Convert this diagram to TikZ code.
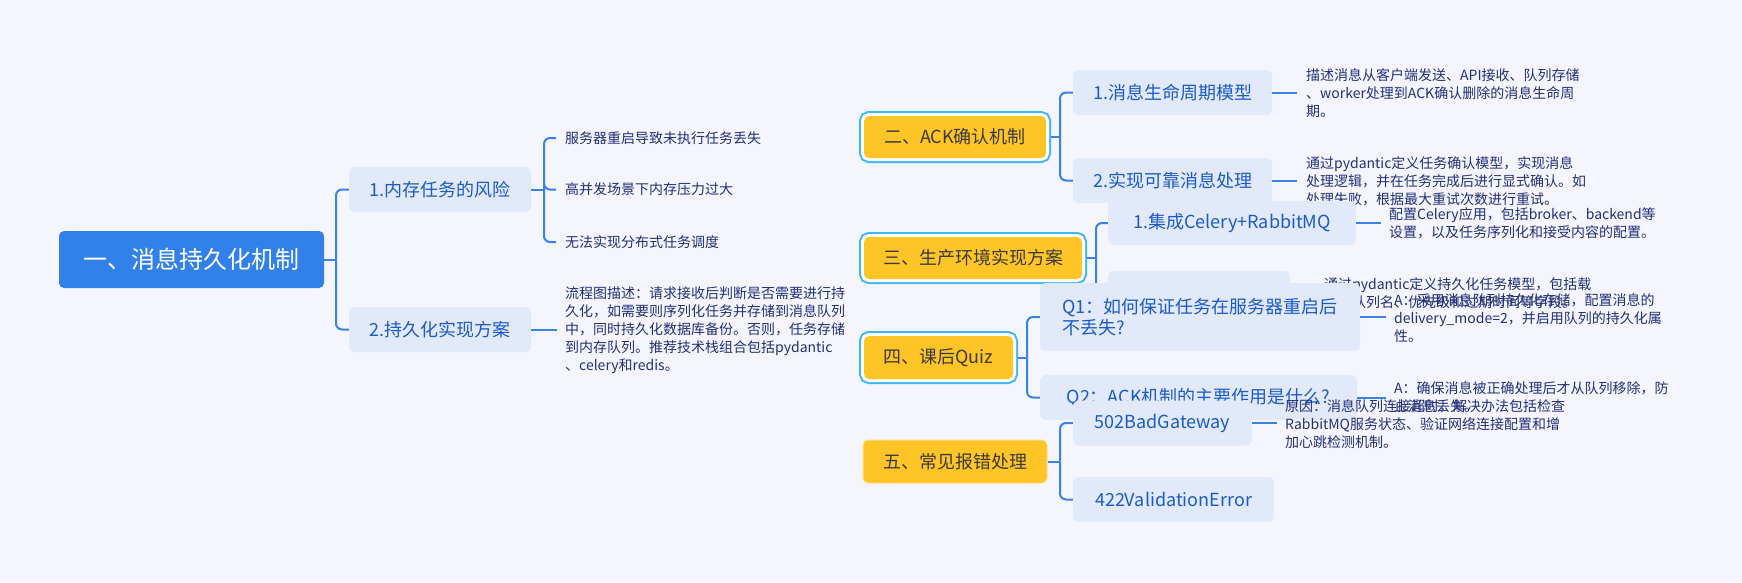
\documentclass[tikz,border=0pt]{standalone}
\usepackage{fontspec}
\setmainfont{Noto Sans CJK SC}
\definecolor{bgc}{HTML}{F5F6FD}
\definecolor{rootc}{HTML}{3281EA}
\definecolor{subc}{HTML}{E1E9FB}
\definecolor{subtext}{HTML}{1C5BC9}
\definecolor{linec}{HTML}{3A82EA}
\definecolor{leafc}{HTML}{232F78}
\definecolor{yel}{HTML}{FFC527}
\definecolor{maintext}{HTML}{3B3B3B}
\definecolor{ringc}{HTML}{3DB8F5}
\begin{document}
\begin{tikzpicture}[x=1pt,y=-1pt,
  conn/.style={draw=linec, line width=2pt},
  brk/.style={conn, rounded corners=6pt},
  rootbox/.style={fill=rootc, rounded corners=5pt, text=white, font=\fontsize{24}{28}\selectfont, minimum height=57pt, inner sep=0pt},
  subbox/.style={fill=subc, rounded corners=6pt, text=subtext, font=\fontsize{18}{21}\selectfont, minimum height=45pt, inner sep=0pt, align=left},
  mainbox/.style={fill=yel, rounded corners=5pt, text=maintext, font=\fontsize{18}{22}\selectfont, minimum height=42pt, inner sep=0pt},
  selbox/.style={mainbox, preaction={draw=ringc, line width=10pt}, preaction={draw=white, line width=6pt}},
  plainbox/.style={mainbox, draw=yel!55!white, line width=1pt},
  leaf/.style={anchor=west, inner sep=0pt, align=left, text=leafc, font=\fontsize{14}{18}\selectfont}
]
\fill[bgc] (0,0) rectangle (1742,582);
\useasboundingbox (0,0) rectangle (1742,582);

% ---------- root branch ----------
\node[rootbox, minimum width=265pt] (root) at (191.5,259.5) {一、消息持久化机制};
\node[subbox, minimum width=182pt] (a1) at (440,189.5) {1.内存任务的风险};
\node[subbox, minimum width=182pt] (a2) at (440,329.5) {2.持久化实现方案};
\node[leaf] (l111) at (565,138) {服务器重启导致未执行任务丢失};
\node[leaf] (l112) at (565,189.5) {高并发场景下内存压力过大};
\node[leaf] (l113) at (565,242) {无法实现分布式任务调度};
\node[leaf] (l12) at (565,330) {流程图描述：请求接收后判断是否需要进行持\\久化，如需要则序列化任务并存储到消息队列\\中，同时持久化数据库备份。否则，任务存储\\到内存队列。推荐技术栈组合包括pydantic\\、celery和redis。};
\coordinate (jr) at (336,259.5);
\coordinate (ja1) at (544,189.5);
\draw[conn] (root.east) -- (jr);
\draw[brk] (jr) |- (a1.west);
\draw[brk] (jr) |- (a2.west);
\draw[conn] (a1.east) -- (ja1);
\draw[brk] (ja1) |- ([xshift=-9pt]l111.west);
\draw[brk] (ja1) |- ([xshift=-9pt]l112.west);
\draw[brk] (ja1) |- ([xshift=-9pt]l113.west);
\draw[conn] (a2.east) -- ([xshift=-8pt]l12.west |- a2.east);

% ---------- branch 2 ----------
\node[selbox, minimum width=182pt] (n2) at (955,137) {二、ACK确认机制};
\node[subbox, minimum width=199pt] (b21) at (1172.5,92.5) {1.消息生命周期模型};
\node[subbox, minimum width=199pt] (b22) at (1172.5,180.5) {2.实现可靠消息处理};
\node[leaf] (l21) at (1306,93.5) {描述消息从客户端发送、API接收、队列存储\\、worker处理到ACK确认删除的消息生命周\\期。};
\node[leaf] (l22) at (1306,181.5) {通过pydantic定义任务确认模型，实现消息\\处理逻辑，并在任务完成后进行显式确认。如\\处理失败，根据最大重试次数进行重试。};
\coordinate (j2) at (1060,137);
\draw[conn] ([xshift=5pt]n2.east) -- (j2);
\draw[brk] (j2) |- (b21.west);
\draw[brk] (j2) |- (b22.west);
\draw[conn] (b21.east) -- ([xshift=-9pt]l21.west |- b21.east);
\draw[conn] (b22.east) -- ([xshift=-9pt]l22.west |- b22.east);

% ---------- branch 3 ----------
\node[selbox, minimum width=218pt] (n3) at (973,258) {三、生产环境实现方案};
\node[subbox, minimum width=248pt, minimum height=44pt] (c31) at (1232,223) {1.集成Celery+RabbitMQ};
\node[subbox, minimum width=182pt] (c32) at (1199,293.5) {};
\node[leaf] (l31) at (1389,223) {配置Celery应用，包括broker、backend等\\设置，以及任务序列化和接受内容的配置。};
\node[leaf] (l32) at (1324,293.5) {通过pydantic定义持久化任务模型，包括载\\荷、队列名、优先级和过期时间等字段。};
\coordinate (j3) at (1096,258);
\draw[conn] ([xshift=5pt]n3.east) -- (j3);
\draw[brk] (j3) |- (c31.west);
\draw[brk] (j3) |- (c32.west);
\draw[conn] (c31.east) -- ([xshift=-8pt]l31.west);
\draw[conn] (c32.east) -- ([xshift=-9pt]l32.west);

% ---------- branch 4 ----------
\node[selbox, minimum width=149pt, minimum height=43pt] (n4) at (938.5,357.5) {四、课后Quiz};
\node[subbox, minimum width=320pt, minimum height=68pt] (q1) at (1200,317) {Q1：如何保证任务在服务器重启后\\不丢失?};
\node[subbox, minimum width=317pt] (q2) at (1198.5,397.5) {Q2：ACK机制的主要作用是什么?};
\node[leaf] (la1) at (1394,318) {A：采用消息队列持久化存储，配置消息的\\delivery\_mode=2，并启用队列的持久化属\\性。};
\node[leaf] (la2) at (1394,397.5) {A：确保消息被正确处理后才从队列移除，防\\止消息丢失。};
\coordinate (j4) at (1027,357.5);
\draw[conn] ([xshift=5pt]n4.east) -- (j4);
\draw[brk] (j4) |- (q1.west);
\draw[brk] (j4) |- (q2.west);
\draw[conn] (q1.east) -- ([xshift=-8pt]la1.west |- q1.east);
\draw[conn] (q2.east) -- ([xshift=-8pt]la2.west);

% ---------- branch 5 ----------
\node[plainbox, minimum width=184pt, minimum height=43pt] (n5) at (955,461.5) {五、常见报错处理};
\node[subbox, minimum width=179pt] (e1) at (1162.5,423) {502BadGateway};
\node[subbox, minimum width=201pt] (e2) at (1173.5,499.5) {422ValidationError};
\node[leaf] (l51) at (1285,424) {原因：消息队列连接超时，解决办法包括检查\\RabbitMQ服务状态、验证网络连接配置和增\\加心跳检测机制。};
\coordinate (j5) at (1060,461.5);
\draw[conn] (n5.east) -- (j5);
\draw[brk] (j5) |- (e1.west);
\draw[brk] (j5) |- (e2.west);
\draw[conn] (e1.east) -- ([xshift=-8pt]l51.west |- e1.east);
\end{tikzpicture}
\end{document}
